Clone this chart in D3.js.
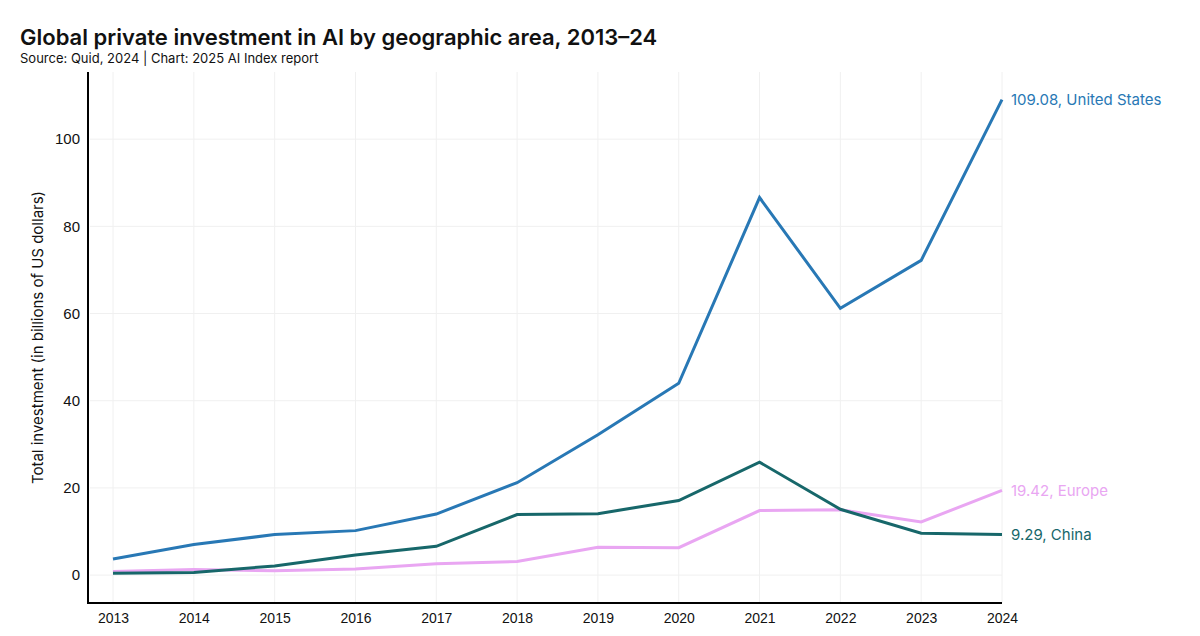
<!doctype html>
<html>
  <head>
    <meta charset="utf-8">
    <title>Global private investment in AI by geographic area</title>
    <style>
      body { margin: 0; background: #fff; }
      svg { display: block; font-family: "Inter", "Open Sans", sans-serif; }
      .grid line { stroke: #f0f0f0; stroke-width: 1; }
      .axis text { fill: #111; font-size: 14px; }
    </style>
  </head>
  <body>
    <div id="chart"></div>
    <script src="https://cdn.jsdelivr.net/npm/d3@7"></script>
    <script>
      var years = [2013, 2014, 2015, 2016, 2017, 2018, 2019, 2020, 2021, 2022, 2023, 2024];
      var usValues = [3.7, 7.0, 9.3, 10.2, 14.0, 21.2, 32.2, 44.0, 86.6, 61.2, 72.2, 109.08];
      var chinaValues = [0.4, 0.6, 2.1, 4.6, 6.6, 13.9, 14.1, 17.1, 25.9, 15.1, 9.6, 9.29];
      var europeValues = [0.8, 1.3, 1.0, 1.4, 2.6, 3.1, 6.4, 6.3, 14.8, 15.0, 12.2, 19.42];
      var seriesNames = ['United States', 'Europe', 'China'];
      var yTicks = [0, 20, 40, 60, 80, 100];

      (function() {
        var width = 1200, height = 636;
        var plotLeft = 88, plotRight = 1002, plotTop = 72, plotBottom = 603;
        var colors = {'United States': '#2878b5', 'Europe': '#e9a6f2', 'China': '#17676a'};
        var data = {'United States': usValues, 'Europe': europeValues, 'China': chinaValues};

        var svg = d3.select('#chart').append('svg')
          .attr('width', width)
          .attr('height', height);

        var x = d3.scaleLinear().domain([2013, 2024]).range([113, plotRight]);
        var y = d3.scaleLinear().domain([-6.4, 115.4]).range([plotBottom, plotTop]);

        // grid
        var grid = svg.append('g').attr('class', 'grid');
        grid.selectAll('.h').data(yTicks).enter().append('line')
          .attr('class', 'h')
          .attr('x1', plotLeft + 2).attr('x2', plotRight)
          .attr('y1', function(d) { return y(d); }).attr('y2', function(d) { return y(d); });
        grid.selectAll('.v').data(years).enter().append('line')
          .attr('class', 'v')
          .attr('y1', plotTop).attr('y2', plotBottom)
          .attr('x1', function(d) { return x(d); }).attr('x2', function(d) { return x(d); });

        // axes
        var xAxis = svg.append('g').attr('class', 'axis')
          .attr('transform', 'translate(0,' + plotBottom + ')')
          .call(d3.axisBottom(x).tickValues(years).tickFormat(d3.format('d')).tickSize(0).tickPadding(10));
        xAxis.select('.domain').remove();

        var yAxis = svg.append('g').attr('class', 'axis')
          .attr('transform', 'translate(' + plotLeft + ',0)')
          .call(d3.axisLeft(y).tickValues(yTicks).tickSize(0).tickPadding(8));
        yAxis.select('.domain').remove();
        yAxis.selectAll('text').style('font-size', '15px');

        svg.append('line')
          .attr('x1', plotLeft).attr('x2', plotLeft).attr('y1', plotTop).attr('y2', plotBottom + 1)
          .attr('stroke', '#000').attr('stroke-width', 2);
        svg.append('line')
          .attr('x1', plotLeft).attr('x2', plotRight).attr('y1', plotBottom).attr('y2', plotBottom)
          .attr('stroke', '#000').attr('stroke-width', 2);

        // lines
        var line = d3.line()
          .x(function(d, i) { return x(years[i]); })
          .y(function(d) { return y(d); });

        ['Europe', 'China', 'United States'].forEach(function(name) {
          svg.append('path')
            .datum(data[name])
            .attr('fill', 'none')
            .attr('stroke', colors[name])
            .attr('stroke-width', 3)
            .attr('d', line);
        });

        seriesNames.forEach(function(name) {
          var vals = data[name];
          var last = vals[vals.length - 1];
          svg.append('text')
            .attr('x', x(2024) + 9)
            .attr('y', y(last))
            .attr('dy', '0.35em')
            .attr('fill', colors[name])
            .style('font-size', '15px')
            .text(last.toFixed(2) + ', ' + name);
        });

        // y title
        svg.append('text')
          .attr('transform', 'translate(43,' + ((plotTop + plotBottom) / 2) + ') rotate(-90)')
          .attr('text-anchor', 'middle')
          .style('font-size', '15px')
          .attr('fill', '#111')
          .text('Total investment (in billions of US dollars)');

        // titles
        svg.append('text')
          .attr('x', 20).attr('y', 45)
          .style('font-size', '22px').style('font-weight', '600')
          .attr('fill', '#111')
          .text('Global private investment in AI by geographic area, 2013–24');
        svg.append('text')
          .attr('x', 20).attr('y', 63)
          .style('font-size', '13px')
          .attr('fill', '#111')
          .text('Source: Quid, 2024 | Chart: 2025 AI Index report');
      })();
    </script>
  </body>
</html>
